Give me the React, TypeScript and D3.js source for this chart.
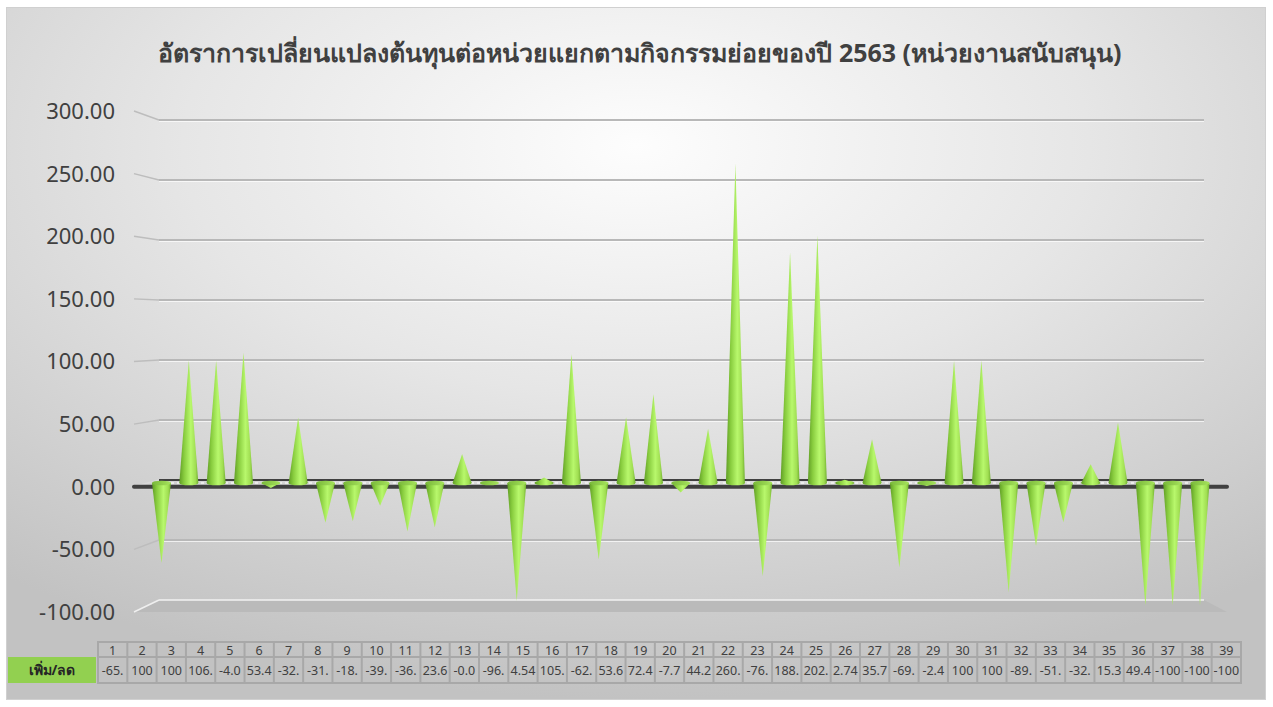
import * as d3 from 'd3';

const categories = d3.range(1, 40).map(String);
// ค่า เพิ่ม/ลด (estimated from the cone heights where the table truncates)
const values = [
  -65.3, 100, 100, 106.2, -4.05, 53.4, -32.4, -31.2, -18.5, -39.6,
  -36.3, 23.6, -0.04, -96.2, 4.54, 105.3, -62.4, 53.6, 72.4, -7.7,
  44.2, 260.4, -76.1, 188.3, 202.1, 2.74, 35.7, -69.2, -2.4, 100,
  100, -89.4, -51.3, -32.1, 15.3, 49.4, -100, -100, -100,
];
// text as shown in the data table cells (clipped by cell width)
const tableLabels = [
  '-65.', '100', '100', '106.', '-4.0', '53.4', '-32.', '-31.', '-18.', '-39.',
  '-36.', '23.6', '-0.0', '-96.', '4.54', '105.', '-62.', '53.6', '72.4', '-7.7',
  '44.2', '260.', '-76.', '188.', '202.', '2.74', '35.7', '-69.', '-2.4', '100',
  '100', '-89.', '-51.', '-32.', '15.3', '49.4', '-100', '-100', '-100',
];
const yTicks = [-100, -50, 0, 50, 100, 150, 200, 250, 300];
const title = 'อัตราการเปลี่ยนแปลงต้นทุนต่อหน่วยแยกตามกิจกรรมย่อยของปี 2563 (หน่วยงานสนับสนุน)';
const seriesName = 'เพิ่ม/ลด';

const W = 1273;
const H = 707;
const font = "'Noto Sans', 'Open Sans', sans-serif";

export default function App() {
  const x = d3.scalePoint<string>().domain(categories).range([161.5, 1200]);
  const yFront = d3.scaleLinear().domain([-100, 300]).range([612, 111]);
  const yBack = d3.scaleLinear().domain([-100, 300]).range([600, 120]);
  const yMid = d3.scaleLinear().domain([-100, 300]).range([605.6, 115.2]);
  const col = d3.scaleBand<string>().domain(categories).range([98, 1241]);

  const frontL = 134, frontR = 1227, backL = 159, backR = 1204;
  const coneW = 19;
  const y0 = yMid(0);

  return (
    <svg width={W} height={H} style={{ position: 'absolute', left: 0, top: 0 }}>
      <defs>
        <radialGradient id="bg" cx="50%" cy="20%" r="80%">
          <stop offset="0%" stopColor="#fdfdfd" />
          <stop offset="45%" stopColor="#e6e6e6" />
          <stop offset="100%" stopColor="#c2c2c2" />
        </radialGradient>
        <linearGradient id="cone" x1="0" x2="1" y1="0" y2="0">
          <stop offset="0%" stopColor="#5f9c25" />
          <stop offset="25%" stopColor="#88cc3e" />
          <stop offset="60%" stopColor="#b8f86c" />
          <stop offset="85%" stopColor="#a0de52" />
          <stop offset="100%" stopColor="#6fae30" />
        </linearGradient>
        <linearGradient id="cap" x1="0" x2="1" y1="0" y2="0">
          <stop offset="0%" stopColor="#79b83a" />
          <stop offset="100%" stopColor="#a6e35c" />
        </linearGradient>
      </defs>
      <rect x={0} y={0} width={W} height={H} fill="#fff" />
      <rect x={6.5} y={7.5} width={1259} height={692} fill="url(#bg)" stroke="#d0d0d0" />

      <text x={640} y={62} textAnchor="middle" fontFamily={font} fontSize={25}
        fontWeight="bold" fill="#404040">{title}</text>

      {/* back wall gridlines and side wall segments */}
      {yTicks.filter(t => t !== 0 && t !== -100).map(t => (
        <g key={t}>
          <line x1={frontL} y1={yFront(t)} x2={backL} y2={yBack(t)} stroke="#bdbdbd" strokeWidth={1.5} />
          <line x1={backL} y1={yBack(t)} x2={backR} y2={yBack(t)} stroke="#b8b8b8" strokeWidth={2} />
          <line x1={backL} y1={yBack(t) + 1.5} x2={backR} y2={yBack(t) + 1.5} stroke="#ffffff" strokeOpacity={0.7} strokeWidth={1} />
        </g>
      ))}

      {/* floor */}
      <polygon
        points={`${frontL},${yFront(-100)} ${backL},${yBack(-100)} ${backR},${yBack(-100)} ${frontR},${yFront(-100)}`}
        fill="#bababa" />
      <line x1={frontL} y1={yFront(-100)} x2={backL} y2={yBack(-100)} stroke="#efefef" strokeWidth={1.5} />
      <line x1={backL} y1={yBack(-100)} x2={backR} y2={yBack(-100)} stroke="#f2f2f2" strokeWidth={1.5} />

      {/* zero plane */}
      <line x1={frontL} y1={yFront(0)} x2={backL} y2={yBack(0)} stroke="#d8d8d8" strokeWidth={1.5} />
      <line x1={backL} y1={yBack(0)} x2={backR} y2={yBack(0)} stroke="#404040" strokeWidth={2} />
      <line x1={backL} y1={yBack(0) + 3} x2={backR} y2={yBack(0) + 3} stroke="#f4f4f4" strokeWidth={1.5} strokeDasharray="3 3" />
      <line x1={frontL} y1={yFront(0)} x2={frontR} y2={yFront(0)} stroke="#404040" strokeWidth={4} strokeLinecap="round" />

      {/* cones */}
      {values.map((v, i) => {
        const cx = x(categories[i])!;
        const tip = yMid(v);
        const h = Math.abs(tip - y0);
        const left = cx - coneW / 2, right = cx + coneW / 2;
        return (
          <g key={i}>
            {h > 1 && (
              <path d={`M${left},${y0} L${cx},${tip} L${right},${y0} Z`} fill="url(#cone)" />
            )}
            <ellipse cx={cx} cy={y0} rx={coneW / 2} ry={2.3} fill={v >= 0 ? 'url(#cone)' : 'url(#cap)'} />
          </g>
        );
      })}

      {/* y axis labels */}
      {yTicks.map(t => (
        <text key={t} x={115} y={yFront(t)} dy="0.36em" textAnchor="end" fontFamily={font}
          fontSize={22} fill="#404040">{t.toFixed(2)}</text>
      ))}

      {/* data table */}
      <rect x={8} y={657} width={88} height={26} fill="#92d050" />
      <text x={52} y={670} dy="0.36em" textAnchor="middle" fontFamily={font} fontSize={14}
        fontWeight="bold" fill="#262626">{seriesName}</text>
      <rect x={98} y={642} width={1143} height={41} fill="none" stroke="#a8a8a8" strokeWidth={2} />
      <line x1={98} y1={657} x2={1241} y2={657} stroke="#a8a8a8" strokeWidth={2} />
      {categories.map((c, i) => {
        const cx0 = col(c)!;
        const bw = col.bandwidth();
        return (
          <g key={c}>
            {i > 0 && <line x1={cx0} y1={642} x2={cx0} y2={683} stroke="#a8a8a8" strokeWidth={2} />}
            <text x={cx0 + bw / 2} y={650} dy="0.36em" textAnchor="middle" fontFamily={font}
              fontSize={12.5} fill="#404040">{c}</text>
            <text x={cx0 + bw / 2} y={670.5} dy="0.36em" textAnchor="middle" fontFamily={font}
              fontSize={12.5} fill="#404040">{tableLabels[i]}</text>
          </g>
        );
      })}
    </svg>
  );
}
